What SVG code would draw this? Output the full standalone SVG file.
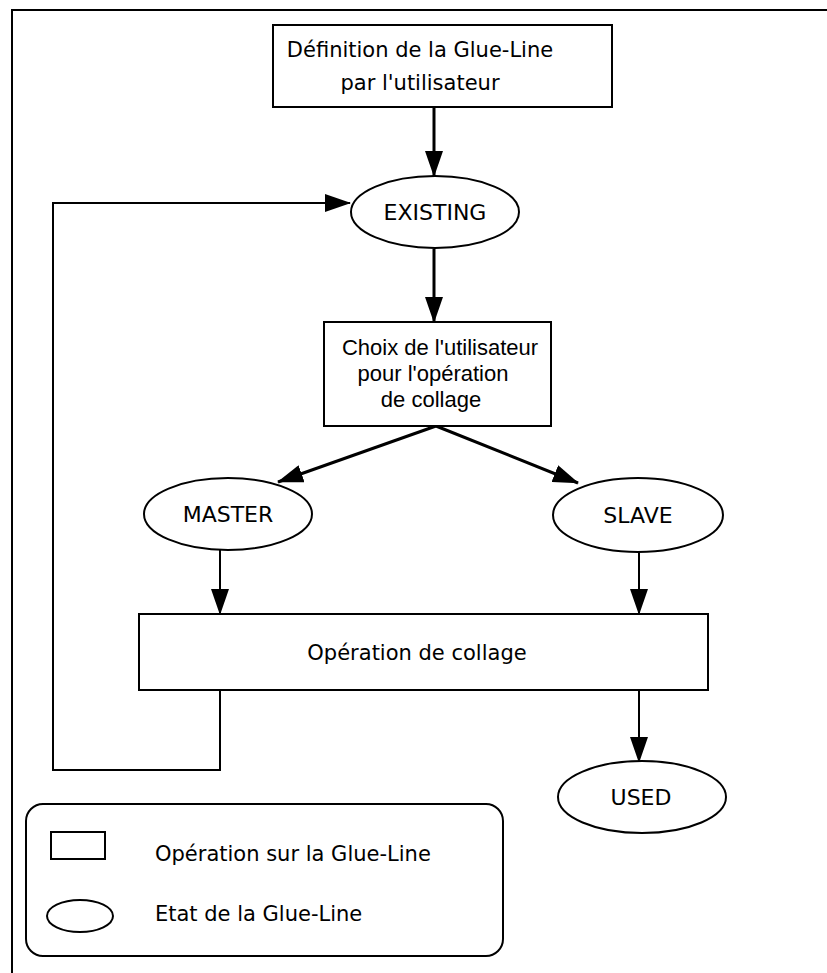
<svg xmlns="http://www.w3.org/2000/svg" width="827" height="973" viewBox="0 0 827 973">
<style>
.box{fill:#fff;stroke:#000;stroke-width:2}
.st{fill:#fff;stroke:#000;stroke-width:2}
.t{font-family:"DejaVu Sans",Verdana,sans-serif;font-size:21px;fill:#000}
.s{font-family:"DejaVu Sans",Verdana,sans-serif;font-size:22px;fill:#000;text-anchor:middle}
.h{font-family:"Liberation Sans",Arial,sans-serif;font-size:22px;fill:#000;text-anchor:middle}
.c{fill:none;stroke:#000}
.thick{stroke-width:3}
.thin{stroke-width:2}
</style>
<defs>
<marker id="ah" markerUnits="userSpaceOnUse" markerWidth="26" markerHeight="18" refX="25" refY="9" orient="auto">
<path d="M0,0 L26,9 L0,18 Z" fill="#000"/>
</marker>
</defs>
<rect width="827" height="973" fill="#fff"/>
<g id="frame" fill="none" stroke="#000" stroke-width="2">
<path d="M12,973 L12,10 L827,10"/>
</g>
<g id="connectors">
<path class="c thick" d="M434,107 L434,176" marker-end="url(#ah)"/>
<path class="c thick" d="M434,249 L434,322" marker-end="url(#ah)"/>
<path class="c thick" d="M436,426 L278,482" marker-end="url(#ah)"/>
<path class="c thick" d="M436,426 L578,483" marker-end="url(#ah)"/>
<path class="c thin" d="M220,550 L220,614" marker-end="url(#ah)"/>
<path class="c thin" d="M639,550 L639,614" marker-end="url(#ah)"/>
<path class="c thin" d="M639,690 L639,762" marker-end="url(#ah)"/>
<path class="c thin" d="M220,690 L220,770 L53,770 L53,203 L350,203" marker-end="url(#ah)"/>
</g>
<g id="n-definition">
<rect class="box" x="273" y="25" width="339" height="82"/>
<text class="t" x="420" y="57" text-anchor="middle">Définition de la Glue-Line</text>
<text class="t" x="420" y="90" text-anchor="middle">par l'utilisateur</text>
</g>
<g id="n-existing">
<ellipse class="st" cx="435" cy="212" rx="84" ry="36"/>
<text class="s" x="435" y="220">EXISTING</text>
</g>
<g id="n-choix">
<rect class="box" x="324" y="322" width="227" height="104"/>
<text class="h" x="440" y="355">Choix de l'utilisateur</text>
<text class="h" x="433" y="381">pour l'opération</text>
<text class="h" x="431" y="407">de collage</text>
</g>
<g id="n-master">
<ellipse class="st" cx="228" cy="514" rx="84" ry="36"/>
<text class="s" x="228" y="522">MASTER</text>
</g>
<g id="n-slave">
<ellipse class="st" cx="638" cy="515" rx="85" ry="37"/>
<text class="s" x="638" y="523">SLAVE</text>
</g>
<g id="n-operation">
<rect class="box" x="139" y="614" width="569" height="76"/>
<text class="t" x="417" y="660" text-anchor="middle">Opération de collage</text>
</g>
<g id="n-used">
<ellipse class="st" cx="642" cy="797" rx="84" ry="36"/>
<text class="s" x="641" y="805">USED</text>
</g>
<g id="legend">
<rect class="box" x="26" y="804" width="477" height="152" rx="17"/>
<rect class="box" x="51" y="832" width="54" height="27"/>
<text class="t" x="155" y="861">Opération sur la Glue-Line</text>
<ellipse class="st" cx="80" cy="916" rx="33" ry="16"/>
<text class="t" x="155" y="921">Etat de la Glue-Line</text>
</g>
</svg>
